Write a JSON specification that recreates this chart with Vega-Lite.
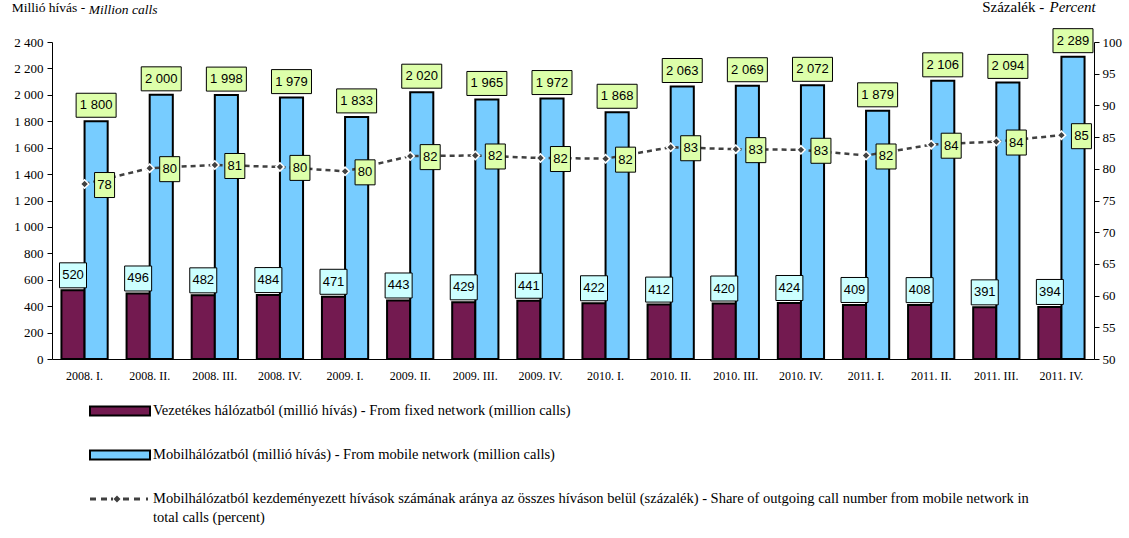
{
  "$schema": "https://vega.github.io/schema/vega-lite/v6.json",
  "autosize": {"type": "none"},
  "padding": {"left": 52, "top": 42, "right": 35, "bottom": 179},
  "width": 1042,
  "height": 317,
  "background": "white",
  "config": {
    "view": {"stroke": null},
    "locale": {"number": {"decimal": ",", "thousands": " ", "grouping": [3], "currency": ["", ""]}},
    "axis": {"domainColor": "black", "tickColor": "black", "labelColor": "black", "titleColor": "black", "labelFont": "Liberation Serif", "titleFont": "Liberation Serif", "grid": false, "domainWidth": 1, "tickWidth": 1}
  },
  "title": {"text": "Millió hívás -", "anchor": "start", "frame": "group", "font": "Liberation Serif", "fontSize": 13.5, "fontWeight": "normal", "color": "black", "dx": -40.3, "baseline": "alphabetic", "offset": -26.5},
  "datasets": {
    "bars": [
      {"q": "2008. I.", "series": "fixed", "v": 520}, {"q": "2008. I.", "series": "mobile", "v": 1800},
      {"q": "2008. II.", "series": "fixed", "v": 496}, {"q": "2008. II.", "series": "mobile", "v": 2000},
      {"q": "2008. III.", "series": "fixed", "v": 482}, {"q": "2008. III.", "series": "mobile", "v": 1998},
      {"q": "2008. IV.", "series": "fixed", "v": 484}, {"q": "2008. IV.", "series": "mobile", "v": 1979},
      {"q": "2009. I.", "series": "fixed", "v": 471}, {"q": "2009. I.", "series": "mobile", "v": 1833},
      {"q": "2009. II.", "series": "fixed", "v": 443}, {"q": "2009. II.", "series": "mobile", "v": 2020},
      {"q": "2009. III.", "series": "fixed", "v": 429}, {"q": "2009. III.", "series": "mobile", "v": 1965},
      {"q": "2009. IV.", "series": "fixed", "v": 441}, {"q": "2009. IV.", "series": "mobile", "v": 1972},
      {"q": "2010. I.", "series": "fixed", "v": 422}, {"q": "2010. I.", "series": "mobile", "v": 1868},
      {"q": "2010. II.", "series": "fixed", "v": 412}, {"q": "2010. II.", "series": "mobile", "v": 2063},
      {"q": "2010. III.", "series": "fixed", "v": 420}, {"q": "2010. III.", "series": "mobile", "v": 2069},
      {"q": "2010. IV.", "series": "fixed", "v": 424}, {"q": "2010. IV.", "series": "mobile", "v": 2072},
      {"q": "2011. I.", "series": "fixed", "v": 409}, {"q": "2011. I.", "series": "mobile", "v": 1879},
      {"q": "2011. II.", "series": "fixed", "v": 408}, {"q": "2011. II.", "series": "mobile", "v": 2106},
      {"q": "2011. III.", "series": "fixed", "v": 391}, {"q": "2011. III.", "series": "mobile", "v": 2094},
      {"q": "2011. IV.", "series": "fixed", "v": 394}, {"q": "2011. IV.", "series": "mobile", "v": 2289}
    ],
    "share": [
      {"q": "2008. I.", "pct": 77.6}, {"q": "2008. II.", "pct": 80.1}, {"q": "2008. III.", "pct": 80.6}, {"q": "2008. IV.", "pct": 80.3},
      {"q": "2009. I.", "pct": 79.6}, {"q": "2009. II.", "pct": 82.0}, {"q": "2009. III.", "pct": 82.1}, {"q": "2009. IV.", "pct": 81.7},
      {"q": "2010. I.", "pct": 81.6}, {"q": "2010. II.", "pct": 83.4}, {"q": "2010. III.", "pct": 83.1}, {"q": "2010. IV.", "pct": 83.0},
      {"q": "2011. I.", "pct": 82.1}, {"q": "2011. II.", "pct": 83.8}, {"q": "2011. III.", "pct": 84.3}, {"q": "2011. IV.", "pct": 85.3}
    ]
  },
  "encoding": {
    "x": {
      "field": "q", "type": "nominal", "sort": null,
      "scale": {"domain": ["2008. I.", "2008. II.", "2008. III.", "2008. IV.", "2009. I.", "2009. II.", "2009. III.", "2009. IV.", "2010. I.", "2010. II.", "2010. III.", "2010. IV.", "2011. I.", "2011. II.", "2011. III.", "2011. IV."], "paddingInner": 0.29, "paddingOuter": 0.145},
      "axis": {"title": "Percent", "titleX": 997, "titleY": -347.7, "titleAlign": "left", "titleBaseline": "alphabetic", "titleFontStyle": "italic", "titleFontWeight": "normal", "titleFontSize": 15, "titleAngle": 0, "ticks": false, "labelAngle": 0, "labelFontSize": 12, "labelPadding": 11}
    }
  },
  "layer": [
    {
      "data": {"name": "bars"},
      "encoding": {
        "y": {"field": "v", "type": "quantitative", "scale": {"domain": [0, 2400], "nice": false},
          "axis": {"orient": "left", "values": [0, 200, 400, 600, 800, 1000, 1200, 1400, 1600, 1800, 2000, 2200, 2400], "format": ",d", "tickSize": 5, "labelPadding": 4, "labelFontSize": 13, "labelOverlap": false, "title": "Million calls", "titleAngle": 0, "titleX": 36.3, "titleY": -28.7, "titleAlign": "left", "titleBaseline": "alphabetic", "titleFontStyle": "italic", "titleFontWeight": "normal", "titleFontSize": 13.5}}
      },
      "layer": [
        {
          "mark": {"type": "bar", "stroke": "black", "strokeWidth": 2},
          "encoding": {
            "xOffset": {"field": "series", "type": "nominal", "scale": {"domain": ["fixed", "mobile"]}},
            "color": {"field": "series", "type": "nominal",
              "scale": {"domain": ["fixed", "mobile", "share"], "range": ["#731A50", "#77CCFF", "#404040"]},
              "legend": {
                "orient": "none", "legendX": 37, "legendY": 359, "direction": "vertical", "title": null,
                "labelFont": "Liberation Serif", "labelFontSize": 14.5, "labelColor": "black", "labelLimit": 2000, "labelOffset": 2,
                "clipHeight": 20, "rowPadding": 24, "padding": 0, "labelBaseline": "top",
                "labelExpr": "datum.value == 'fixed' ? 'Vezetékes hálózatból (millió hívás) - From fixed network (million calls)' : datum.value == 'mobile' ? 'Mobilhálózatból (millió hívás) - From mobile network (million calls)' : ['Mobilhálózatból kezdeményezett hívások számának aránya az összes híváson belül (százalék) - Share of outgoing call number from mobile network in', 'total calls (percent)']",
                "symbolType": "M-1,-0.15H1V0.15H-1Z", "symbolSize": 3600, "symbolStrokeColor": "black", "symbolStrokeWidth": 2,
                "encode": {
                  "symbols": {"update": {
                    "x": {"value": 31},
                    "y": {"value": 10},
                    "shape": {"signal": "datum.value == 'share' ? 'M-1,-0.05H-0.8V0.05H-1Z M-0.633,-0.05H-0.433V0.05H-0.633Z M-0.3,-0.05H-0.233V0.05H-0.3Z M-0.1,-0.117L0.017,0L-0.1,0.117L-0.217,0Z M0.1,-0.05H0.3V0.05H0.1Z M0.467,-0.05H0.667V0.05H0.467Z M0.867,-0.05H0.933V0.05H0.867Z' : 'M-1,-0.15H1V0.15H-1Z'"},
                    "size": {"value": 3600},
                    "fill": {"signal": "scale('color', datum.value)"},
                    "fillOpacity": {"value": 1},
                    "opacity": {"value": 1},
                    "stroke": {"signal": "datum.value == 'share' ? 'transparent' : 'black'"},
                    "strokeWidth": {"signal": "datum.value == 'share' ? 0 : 2"}
                  }},
                  "labels": {"update": {
                    "x": {"value": 64},
                    "y": {"value": 10},
                    "dy": {"value": -7.5},
                    "font": {"value": "Liberation Serif"},
                    "fontSize": {"value": 14.5},
                    "lineHeight": {"value": 19},
                    "fill": {"value": "black"},
                    "baseline": {"value": "top"}
                  }}
                }
              }
            }
          }
        },
        {
          "transform": [{"filter": "datum.series == 'mobile'"}],
          "mark": {"type": "point", "shape": "M-1,-0.6H1V0.6H-1Z", "size": 1600, "filled": true, "fill": "#DDFFAA", "stroke": "black", "strokeWidth": 1, "opacity": 1, "yOffset": -16},
          "encoding": {"xOffset": {"field": "series", "type": "nominal", "scale": {"domain": ["fixed", "mobile"]}}}
        },
        {
          "transform": [{"filter": "datum.series == 'mobile'"}],
          "mark": {"type": "text", "font": "Liberation Sans", "fontSize": 13, "color": "black", "baseline": "middle", "align": "center", "yOffset": -16},
          "encoding": {"xOffset": {"field": "series", "type": "nominal", "scale": {"domain": ["fixed", "mobile"]}}, "text": {"field": "v", "type": "quantitative", "format": ",d"}}
        },
        {
          "transform": [{"filter": "datum.series == 'fixed'"}],
          "mark": {"type": "point", "shape": "M-1,-0.926H1V0.926H-1Z", "size": 729, "filled": true, "fill": "#CCFFFF", "stroke": "black", "strokeWidth": 1, "opacity": 1, "yOffset": -15},
          "encoding": {"xOffset": {"field": "series", "type": "nominal", "scale": {"domain": ["fixed", "mobile"]}}}
        },
        {
          "transform": [{"filter": "datum.series == 'fixed'"}],
          "mark": {"type": "text", "font": "Liberation Sans", "fontSize": 13, "color": "black", "baseline": "middle", "align": "center", "yOffset": -15},
          "encoding": {"xOffset": {"field": "series", "type": "nominal", "scale": {"domain": ["fixed", "mobile"]}}, "text": {"field": "v", "type": "quantitative", "format": ",d"}}
        }
      ]
    },
    {
      "data": {"name": "share"},
      "encoding": {
        "y": {"field": "pct", "type": "quantitative", "scale": {"domain": [50, 100], "nice": false},
          "axis": {"orient": "right", "values": [50, 55, 60, 65, 70, 75, 80, 85, 90, 95, 100], "tickSize": 5, "labelPadding": 3, "labelFontSize": 13, "labelOverlap": false, "title": "Százalék -", "titleAngle": 0, "titleX": -112.3, "titleY": -30.7, "titleAlign": "left", "titleBaseline": "alphabetic", "titleFontWeight": "normal", "titleFontSize": 15}}
      },
      "layer": [
        {"mark": {"type": "line", "color": "#404040", "strokeWidth": 2.5, "strokeDash": [5, 4]}},
        {"mark": {"type": "point", "shape": "diamond", "filled": true, "fill": "#404040", "stroke": "white", "strokeWidth": 1.5, "size": 70, "opacity": 1}},
        {"mark": {"type": "point", "shape": "M-1,-1.25H1V1.25H-1Z", "size": 400, "filled": true, "fill": "#DDFFAA", "stroke": "black", "strokeWidth": 1, "opacity": 1, "xOffset": 20, "yOffset": 1}},
        {"mark": {"type": "text", "font": "Liberation Sans", "fontSize": 13, "color": "black", "baseline": "middle", "align": "center", "xOffset": 20, "yOffset": 1},
          "encoding": {"text": {"field": "pct", "type": "quantitative", "format": ".0f"}}}
      ]
    }
  ],
  "resolve": {"scale": {"y": "independent"}}
}
